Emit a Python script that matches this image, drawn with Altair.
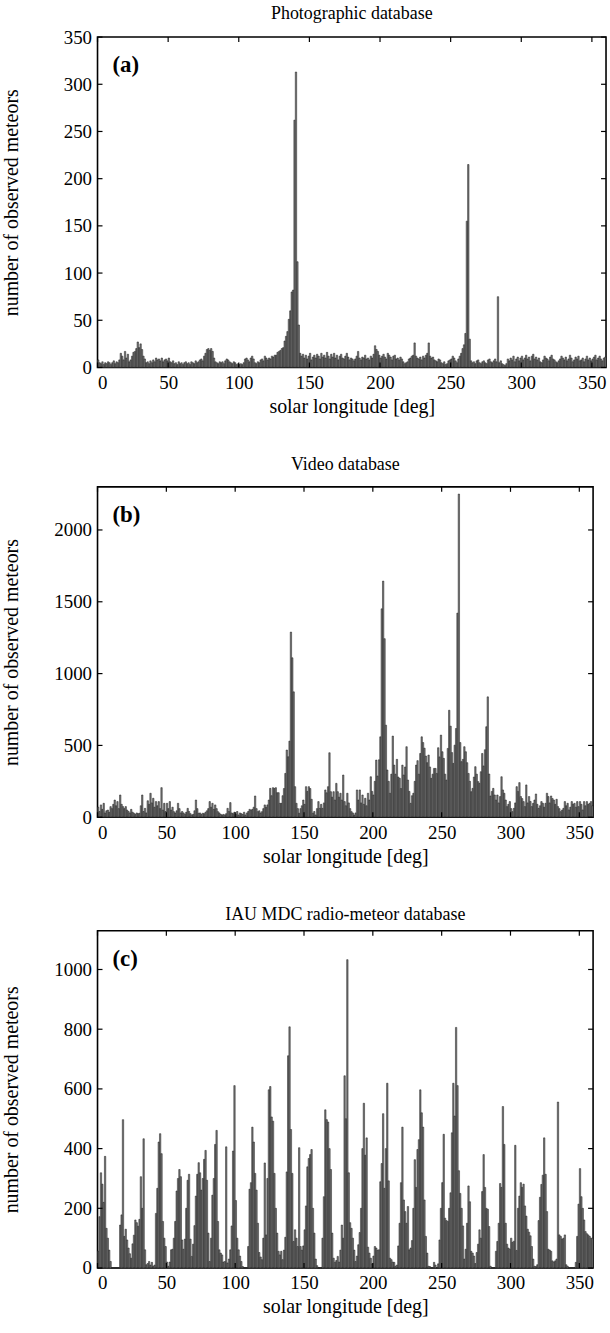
import altair as alt
import pandas as pd

LON = list(range(360))

PHOTO = [
    8, 5, 4, 6, 3, 5, 4, 6, 5, 3,
    5, 7, 4, 6, 5, 8, 15, 12, 8, 17,
    10, 14, 6, 8, 12, 16, 17, 20, 27, 21,
    25, 19, 12, 9, 5, 6, 4, 7, 5, 8,
    6, 10, 8, 9, 7, 10, 6, 8, 9, 7,
    10, 6, 5, 7, 4, 5, 3, 6, 4, 5,
    3, 5, 6, 4, 5, 3, 6, 5, 4, 7,
    5, 6, 8, 9, 7, 12, 15, 19, 20, 18,
    20, 17, 10, 6, 5, 4, 6, 5, 6, 4,
    7, 9, 8, 6, 5, 4, 6, 5, 3, 4,
    3, 4, 3, 5, 9, 10, 8, 6, 10, 12,
    9, 5, 4, 6, 5, 8, 9, 7, 12, 10,
    8, 10, 9, 12, 11, 13, 13, 16, 17, 18,
    20, 21, 28, 33, 38, 51, 60, 80, 82, 262,
    313, 112, 45, 15, 12, 14, 10, 13, 9, 12,
    15, 8, 11, 13, 10, 14, 12, 9, 15, 11,
    13, 10, 16, 12, 9, 14, 11, 15, 10, 13,
    8, 12, 14, 10, 9, 12, 15, 11, 8, 10,
    9, 7, 9, 12, 17, 10, 8, 11, 10, 13,
    9, 10, 8, 12, 10, 14, 23, 19, 17, 13,
    10, 12, 14, 11, 9, 15, 13, 11, 8, 12,
    13, 9, 10, 8, 11, 9, 6, 4, 5, 6,
    9, 10, 12, 13, 26, 12, 10, 9, 11, 8,
    12, 10, 13, 15, 26, 12, 10, 11, 8, 7,
    6, 9, 8, 5, 4, 6, 3, 4, 7, 8,
    9, 12, 10, 7, 5, 9, 12, 15, 20, 24,
    36, 155, 215, 30, 7, 5, 6, 4, 7, 8,
    5, 4, 6, 7, 5, 4, 8, 9, 6, 5,
    7, 9, 6, 75, 5, 7, 4, 3, 2, 4,
    9, 7, 10, 8, 12, 6, 9, 11, 7, 10,
    12, 8, 10, 13, 9, 11, 7, 12, 14, 9,
    11, 8, 10, 6, 5, 8, 12, 10, 9, 7,
    11, 13, 9, 8, 6, 5, 7, 9, 12, 10,
    8, 11, 7, 9, 13, 10, 6, 8, 11, 9,
    12, 7, 8, 10, 6, 9, 12, 8, 10, 7,
    9, 11, 13, 8, 10, 12, 9, 7, 10, 11,
]

VIDEO = [
    70, 40, 86, 55, 97, 30, 45, 50, 35, 74,
    60, 90, 120, 80, 109, 60, 155, 90, 74, 60,
    74, 50, 40, 30, 55, 35, 28, 20, 30, 25,
    28, 80, 155, 40, 62, 30, 115, 90, 167, 100,
    132, 70, 109, 80, 109, 60, 206, 50, 97, 40,
    97, 60, 109, 50, 70, 39, 30, 45, 97, 60,
    30, 40, 30, 20, 35, 62, 40, 25, 16, 20,
    45, 120, 60, 28, 30, 20, 28, 25, 35, 45,
    60, 109, 70, 97, 55, 86, 60, 39, 30, 20,
    16, 20, 16, 25, 62, 40, 102, 30, 25, 35,
    20, 40, 16, 30, 25, 20, 35, 16, 30, 40,
    55, 50, 55, 70, 148, 60, 39, 45, 30, 39,
    60, 86, 70, 86, 120, 201, 150, 206, 200, 206,
    171, 171, 97, 97, 150, 200, 305, 468, 421, 530,
    1289, 1110, 873, 213, 97, 60, 28, 60, 80, 120,
    90, 213, 180, 213, 200, 125, 28, 40, 16, 60,
    109, 62, 90, 62, 100, 190, 170, 213, 449, 178,
    140, 178, 120, 236, 178, 140, 167, 120, 294, 109,
    80, 167, 100, 60, 39, 30, 16, 30, 190, 120,
    190, 100, 155, 90, 132, 80, 167, 120, 282, 180,
    155, 250, 398, 287, 400, 560, 1451, 1644, 1243, 641,
    329, 250, 167, 300, 565, 363, 300, 403, 280, 271,
    200, 363, 294, 350, 491, 259, 180, 97, 150, 167,
    250, 363, 394, 300, 444, 560, 520, 481, 426, 380,
    433, 350, 271, 300, 340, 340, 305, 484, 420, 572,
    456, 410, 300, 259, 479, 745, 634, 450, 375, 502,
    618, 1421, 2250, 520, 387, 403, 491, 456, 380, 305,
    250, 178, 201, 280, 352, 300, 248, 236, 317, 444,
    357, 470, 630, 838, 301, 148, 180, 201, 155, 120,
    155, 100, 144, 282, 190, 167, 120, 74, 90, 109,
    60, 39, 62, 100, 213, 180, 241, 144, 130, 109,
    74, 225, 100, 144, 110, 74, 97, 120, 162, 90,
    62, 80, 109, 97, 70, 97, 167, 144, 100, 148,
    130, 120, 90, 125, 74, 60, 39, 50, 62, 109,
    80, 97, 51, 70, 109, 90, 97, 70, 109, 74,
    109, 90, 51, 109, 80, 109, 90, 97, 109, 80,
]

RADIO = [
    56, 172, 319, 281, 220, 374, 133, 100, 60, 22,
    0, 0, 0, 0, 0, 0, 144, 178, 497, 106,
    130, 94, 67, 48, 33, 81, 110, 161, 152, 140,
    163, 306, 200, 433, 61, 11, 15, 22, 10, 19,
    6, 10, 183, 267, 422, 450, 383, 156, 100, 72,
    20, 6, 20, 61, 63, 100, 156, 258, 300, 330,
    306, 94, 63, 97, 200, 294, 314, 97, 39, 80,
    142, 241, 314, 353, 319, 261, 300, 364, 394, 294,
    117, 22, 100, 244, 300, 414, 461, 156, 61, 50,
    44, 20, 22, 406, 17, 30, 61, 141, 392, 611,
    226, 100, 61, 40, 22, 5, 0, 0, 0, 72,
    264, 286, 472, 422, 317, 261, 150, 52, 37, 28,
    100, 352, 111, 300, 597, 608, 506, 492, 317, 200,
    117, 56, 44, 56, 28, 60, 103, 322, 711, 808,
    464, 317, 89, 128, 100, 72, 403, 72, 60, 74,
    128, 208, 339, 367, 380, 397, 200, 117, 30, 8,
    0, 0, 0, 100, 239, 530, 497, 489, 400, 330,
    117, 33, 19, 25, 39, 20, 60, 144, 100, 644,
    500, 1033, 319, 152, 133, 100, 60, 22, 40, 78,
    119, 200, 400, 552, 378, 436, 70, 50, 33, 14,
    40, 72, 67, 60, 61, 289, 350, 517, 267, 400,
    619, 292, 33, 28, 20, 19, 6, 10, 74, 150,
    286, 472, 228, 189, 150, 206, 61, 67, 92, 200,
    363, 270, 397, 430, 597, 520, 472, 228, 106, 50,
    6, 5, 0, 0, 19, 10, 0, 14, 94, 200,
    286, 448, 167, 159, 156, 200, 252, 453, 619, 509,
    806, 611, 326, 250, 200, 141, 30, 63, 150, 275,
    222, 56, 50, 40, 15, 52, 80, 128, 100, 256,
    380, 270, 200, 197, 139, 6, 0, 0, 0, 56,
    89, 150, 283, 270, 541, 414, 150, 80, 67, 63,
    100, 86, 90, 411, 59, 200, 241, 286, 270, 281,
    208, 174, 130, 120, 108, 72, 30, 6, 5, 11,
    159, 237, 280, 311, 436, 314, 189, 63, 60, 56,
    24, 20, 24, 30, 556, 111, 106, 97, 100, 111,
    11, 6, 0, 0, 0, 0, 0, 19, 106, 214,
    333, 239, 200, 161, 122, 115, 111, 106, 100, 100,
]

TITLES = ["Photographic database", "Video database", "IAU MDC radio-meteor database"]
LABELS = ["(a)", "(b)", "(c)"]
X_TICKS = [0, 50, 100, 150, 200, 250, 300, 350]
Y_TICKS = [
    [0, 50, 100, 150, 200, 250, 300, 350],
    [0, 500, 1000, 1500, 2000],
    [0, 200, 400, 600, 800, 1000],
]
Y_MAX = [350, 2300, 1130]

FONT = "Liberation Serif"
X_TITLE = "solar longitude [deg]"
Y_TITLE = "number of observed meteors"


def panel(values, title, label, ymax, yticks, w, h, title_offset):
    df = pd.DataFrame({"lon": LON, "n": values})
    xs = alt.Scale(domain=[0, 360], nice=False, zero=False)
    ys = alt.Scale(domain=[0, ymax], nice=False)
    xaxis = alt.Axis(values=X_TICKS, title=X_TITLE, format="d")
    yaxis = alt.Axis(values=yticks, title=Y_TITLE, format="d", titleX=-76)
    bars = (
        alt.Chart(df)
        .transform_calculate(lon2="datum.lon + 1", zero="0")
        .mark_rect(fill="#7a7a7a", stroke="#1a1a1a", strokeWidth=0.5)
        .encode(
            x=alt.X("lon:Q", scale=xs, axis=xaxis),
            x2="lon2:Q",
            y=alt.Y("n:Q", scale=ys, axis=yaxis),
            y2="zero:Q",
        )
    )
    xt = pd.DataFrame({"lon": X_TICKS})
    yt = pd.DataFrame({"n": yticks})
    tx = alt.X("lon:Q", scale=xs, axis=xaxis)
    ty = alt.Y("n:Q", scale=ys, axis=yaxis)
    tick_b = alt.Chart(xt).mark_rule(color="black", strokeWidth=1.2).encode(
        x=tx, y=alt.value(h), y2=alt.value(h - 5))
    tick_t = alt.Chart(xt).mark_rule(color="black", strokeWidth=1.2).encode(
        x=tx, y=alt.value(0), y2=alt.value(5))
    tick_l = alt.Chart(yt).mark_rule(color="black", strokeWidth=1.2).encode(
        y=ty, x=alt.value(0), x2=alt.value(5))
    tick_r = alt.Chart(yt).mark_rule(color="black", strokeWidth=1.2).encode(
        y=ty, x=alt.value(w - 5), x2=alt.value(w))
    lab = alt.Chart(pd.DataFrame({"lab": [label]})).mark_text(
        font=FONT, fontSize=23, fontWeight="bold", align="left",
        baseline="middle", color="black"
    ).encode(text="lab:N", x=alt.value(15), y=alt.value(28))
    return alt.layer(bars, tick_b, tick_t, tick_l, tick_r, lab).properties(
        width=w, height=h,
        title=alt.TitleParams(title, offset=title_offset, fontSize=18, font=FONT,
                              fontWeight="normal", color="black", frame="group",
                              anchor="middle"),
    )


pa = panel(PHOTO, TITLES[0], LABELS[0], Y_MAX[0], Y_TICKS[0], 511, 332, 5)
pb = panel(VIDEO, TITLES[1], LABELS[1], Y_MAX[1], Y_TICKS[1], 498, 332, 12)
pc = panel(RADIO, TITLES[2], LABELS[2], Y_MAX[2], Y_TICKS[2], 498, 339, 6)

chart = (
    alt.vconcat(pa, pb, pc, spacing=38)
    .properties(padding={"left": 1, "top": 1, "right": 2, "bottom": 5})
    .configure_view(stroke="black", strokeWidth=1.6)
    .configure_axis(
        domain=False, ticks=False, grid=False,
        labelFont=FONT, labelFontSize=19, labelColor="black", labelPadding=6,
        titleFont=FONT, titleFontSize=20, titleFontWeight="normal",
        titleColor="black", titlePadding=4,
    )
)

chart.save("out.html", embed_options={"renderer": "svg", "actions": False})
